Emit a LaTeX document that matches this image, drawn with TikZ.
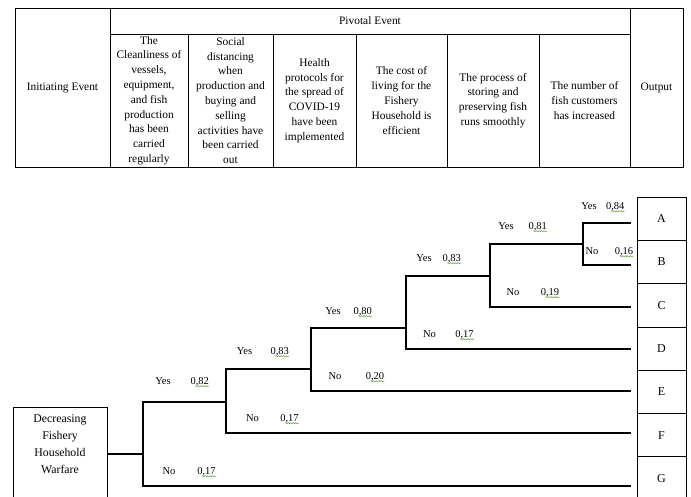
\documentclass[tikz,border=0pt]{standalone}
\usepackage{fontspec}
\setmainfont{Liberation Serif}
\usetikzlibrary{shapes,arrows,positioning,decorations.pathmorphing}
\definecolor{spellgreen}{RGB}{110,170,70}
\tikzstyle{block} = [draw, rectangle, line width=0.8pt, inner sep=0pt,
    outer sep=0pt, align=center, font=\fontsize{11.4}{14.8}\selectfont]
\tikzstyle{result} = [draw, rectangle, line width=0.8pt, outer sep=0pt,
    minimum height=43.3pt, minimum width=49pt, font=\fontsize{12}{14}\selectfont]
\tikzstyle{branch} = [line width=1.8pt]
\tikzstyle{answer} = [inner sep=0pt, font=\fontsize{10.5}{12}\selectfont]
\tikzstyle{squiggle} = [spellgreen, line width=0.6pt, decorate,
    decoration={snake, amplitude=0.6pt, segment length=2.5pt}]
\tikzstyle{input} = [coordinate]
\tikzstyle{output} = [coordinate]

\begin{document}
\begin{tikzpicture}[x=1pt, y=1pt]
    \useasboundingbox (0,0) rectangle (691,-496);
    % The table with the events
    \node [block, anchor=north west, minimum width=95pt,
            minimum height=159pt] (init) at (15,-8) {Initiating Event};
    \node [block, anchor=north west, minimum width=520pt,
            minimum height=26pt] (pivot) at (init.north east) {Pivotal Event};
    \node [block, anchor=north west, minimum width=53pt,
            minimum height=159pt] (out) at (pivot.north east) {Output};
    \node [block, anchor=north west, minimum width=78pt,
            minimum height=133pt] (ev1) at (pivot.south west)
        {The\\Cleanliness of\\vessels,\\equipment,\\and fish\\production\\has been\\carried\\regularly};
    \node [block, right=0pt of ev1, minimum width=85pt, minimum height=133pt] (ev2)
        {Social\\distancing\\when\\production and\\buying and\\selling\\activities have\\been carried\\out};
    \node [block, right=0pt of ev2, minimum width=83pt, minimum height=133pt] (ev3)
        {Health\\protocols for\\the spread of\\COVID-19\\have been\\implemented};
    \node [block, right=0pt of ev3, minimum width=91pt, minimum height=133pt] (ev4)
        {The cost of\\living for the\\Fishery\\Household is\\efficient};
    \node [block, right=0pt of ev4, minimum width=92pt, minimum height=133pt] (ev5)
        {The process of\\storing and\\preserving fish\\runs smoothly};
    \node [block, right=0pt of ev5, minimum width=91pt, minimum height=133pt] (ev6)
        {The number of\\fish customers\\has increased};

    % The outputs and the initiating box
    \node [result, anchor=north west] (A) at (637,-197) {A};
    \node [result, below=0pt of A] (B) {B};
    \node [result, below=0pt of B] (C) {C};
    \node [result, below=0pt of C] (D) {D};
    \node [result, below=0pt of D] (E) {E};
    \node [result, below=0pt of E] (F) {F};
    \node [result, below=0pt of F] (G) {G};
    \node [output, left=6pt of A] (stop) {};
    \node [draw, line width=0.8pt, minimum width=94pt,
            minimum height=94pt] (start) at (60,-454) {};
    \node [align=center, font=\fontsize{11.8}{17}\selectfont] (startlabel)
        at ([yshift=9.5pt]start.center) {Decreasing\\Fishery\\Household\\Warfare};

    % Ends of every fork
    \node [input] (up1) at (143,-402) {};
    \node [input] (dn1) at (143,-486) {};
    \node [input] (up2) at (226,-369) {};
    \node [input] (dn2) at (226,-433) {};
    \node [input] (up3) at (311,-328) {};
    \node [input] (dn3) at (311,-391) {};
    \node [input] (up4) at (406,-276) {};
    \node [input] (dn4) at (406,-349) {};
    \node [input] (up5) at (490,-244) {};
    \node [input] (dn5) at (490,-307) {};
    \node [input] (up6) at (583,-223) {};
    \node [input] (dn6) at (583,-265) {};

    % The tree itself
    \draw [branch] (start) -- (start -| up1);
    \draw [branch] (up1 -| up2) -- (up1) -- (dn1) -- (dn1 -| stop);
    \draw [branch] (up2 -| up3) -- (up2) -- (dn2) -- (dn2 -| stop);
    \draw [branch] (up3 -| up4) -- (up3) -- (dn3) -- (dn3 -| stop);
    \draw [branch] (up4 -| up5) -- (up4) -- (dn4) -- (dn4 -| stop);
    \draw [branch] (up5 -| up6) -- (up5) -- (dn5) -- (dn5 -| stop);
    \draw [branch] (up6 -| stop) -- (up6) -- (dn6) -- (dn6 -| stop);

    % Answers and their probabilities
    \node [answer] (yes1) at (163,-381) {Yes};
    \node [answer, base right=19.5pt of yes1] (pyes1) {0,82};
    \node [answer] (no1) at (169,-471) {No};
    \node [answer, base right=21.5pt of no1] (pno1) {0,17};
    \node [answer] (yes2) at (244.5,-351) {Yes};
    \node [answer, base right=18pt of yes2] (pyes2) {0,83};
    \node [answer] (no2) at (252.5,-418) {No};
    \node [answer, base right=21pt of no2] (pno2) {0,17};
    \node [answer] (yes3) at (333,-311) {Yes};
    \node [answer, base right=12.5pt of yes3] (pyes3) {0,80};
    \node [answer] (no3) at (335,-376) {No};
    \node [answer, base right=24pt of no3] (pno3) {0,20};
    \node [answer] (yes4) at (424,-258) {Yes};
    \node [answer, base right=10.5pt of yes4] (pyes4) {0,83};
    \node [answer] (no4) at (429.5,-334) {No};
    \node [answer, base right=19pt of no4] (pno4) {0,17};
    \node [answer] (yes5) at (506,-226) {Yes};
    \node [answer, base right=14.5pt of yes5] (pyes5) {0,81};
    \node [answer] (no5) at (513,-292) {No};
    \node [answer, base right=21pt of no5] (pno5) {0,19};
    \node [answer] (yes6) at (589,-206) {Yes};
    \node [answer, base right=9pt of yes6] (pyes6) {0,84};
    \node [answer] (no6) at (592,-251) {No};
    \node [answer, base right=16pt of no6] (pno6) {0,16};
    \foreach \p in {pyes1,pno1,pyes2,pno2,pyes3,pno3,pyes4,pno4,pyes5,pno5,pyes6,pno6}
        \draw [squiggle] ([xshift=5pt]\p.south west) -- (\p.south east);
\end{tikzpicture}
\end{document}
